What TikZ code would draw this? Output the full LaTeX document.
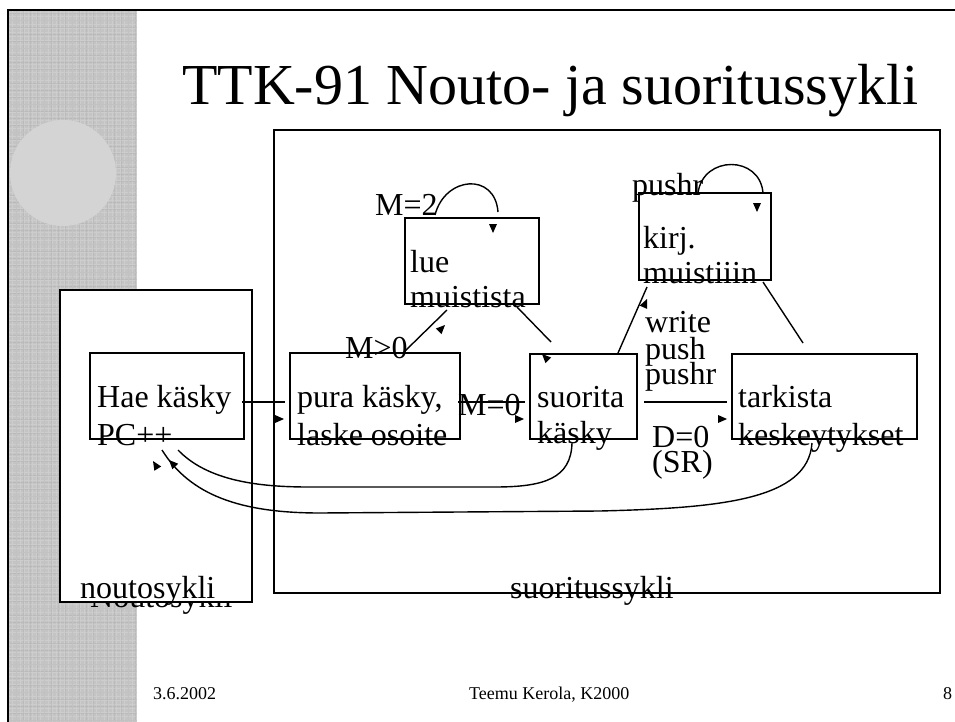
\documentclass[tikz,border=0pt]{standalone}
\usepackage{fontspec}
\setmainfont{Liberation Serif}
\usetikzlibrary{calc}
\newcommand{\mytip}[3]{\fill[shift={(#1,#2)}, rotate=#3] (0,0) -- (-9,4) -- (-9,-4) -- cycle;}
\begin{document}
\begin{tikzpicture}[x=1pt,y=-1pt,
  box/.style={draw, line width=1.6pt, fill=white, inner sep=0pt, outer sep=0pt},
  lbl/.style={inner sep=0pt, anchor=base west, font=\fontsize{32}{38}\selectfont},
  foot/.style={inner sep=0pt, anchor=base west, font=\fontsize{18}{20}\selectfont},
  con/.style={line width=1.4pt}]
\useasboundingbox (0,0) rectangle (955,722);
% background strip
\fill[black!23] (8,10) rectangle (137,722);
\draw[white, opacity=0.16, line width=0.7pt, step=4pt] (8,10) grid (137,722);
\draw[black, opacity=0.05, line width=0.5pt, xshift=2pt, yshift=1pt, step=7pt] (8,10) grid (135,721);
\fill[black!17] (63,173) circle [radius=53];
% frame
\draw[line width=1.8pt] (8,722) -- (8,10) -- (955,10);
% title
\node[inner sep=0pt, anchor=base west, font=\fontsize{58}{60}\selectfont] (title) at (182,105) {TTK-91 Nouto- ja suoritussykli};
% ghost label
\node[lbl] (ghost) at (90,607) {Noutosykli};
% outer boxes
\node[box, minimum width=192, minimum height=312] (nouto) at (156,446) {};
\node[box, minimum width=666, minimum height=463] (suor) at (607,361.5) {};
% inner boxes
\node[box, minimum width=154, minimum height=86] (hae) at (167,396) {};
\node[box, minimum width=170, minimum height=86] (pura) at (375,396) {};
\node[box, minimum width=107, minimum height=85] (suorita) at (583.5,396.5) {};
\node[box, minimum width=185, minimum height=85] (tark) at (824.5,396.5) {};
\node[box, minimum width=134, minimum height=86] (lue) at (472,261) {};
\node[box, minimum width=132, minimum height=87] (kirj) at (705,236.5) {};
% box texts
\node[lbl] (t1) at (97,407) {Hae käsky};
\node[lbl] (t2) at (97,445) {PC++};
\node[lbl] (t3) at (297,407) {pura käsky,};
\node[lbl] (t4) at (297,445) {laske osoite};
\node[lbl] (t5) at (537,407) {suorita};
\node[lbl] (t6) at (537,443) {käsky};
\node[lbl] (t7) at (738,407) {tarkista};
\node[lbl] (t8) at (738,445) {keskeytykset};
\node[lbl] (t9) at (410,272) {lue};
\node[lbl] (t10) at (410,307) {muistista};
\node[lbl] (t11) at (643,248) {kirj.};
\node[lbl] (t12) at (643,283) {muistiiin};
% edge labels
\node[lbl] (m2) at (375,215) {M=2};
\node[lbl] (pr1) at (632,196) {pushr};
\node[lbl] (mg0) at (345,358) {M>0};
\node[lbl] (m0) at (458,415) {M=0};
\node[lbl] (w1) at (645,332) {write};
\node[lbl] (w2) at (645,359) {push};
\node[lbl] (w3) at (645,384) {pushr};
\node[lbl] (d0) at (652,447) {D=0};
\node[lbl] (sr) at (652,472) {(SR)};
\node[lbl] (nl) at (80,598) {noutosykli};
\node[lbl] (sl) at (510,598) {suoritussykli};
% footer
\node[foot] (f1) at (153,699) {3.6.2002};
\node[foot] (f2) at (469,699) {Teemu Kerola, K2000};
\node[foot] (f3) at (943,699) {8};
% connectors
\draw[con] ($(hae.east)+(-2,6)$) -- ($(pura.west)+(-5,6)$);
\draw[con] ($(pura.east)+(-2,6)$) -- ($(suorita.west)+(-5,5.5)$);
\draw[con] ($(suorita.east)+(7,5.5)$) -- ($(tark.west)+(-5,5.5)$);
\draw[con] ($(pura.north)+(28,0)$) -- ($(lue.south)+(-25,6)$);
\draw[con] ($(lue.south)+(45,3)$) -- ($(suorita.north)+(-32.5,-12)$);
\draw[con] ($(suorita.north)+(34.5,-1)$) -- ($(kirj.south)+(-58,7)$);
\draw[con] ($(kirj.south)+(58,2)$) -- ($(tark.north)+(-21.5,-11)$);
% self loops
\draw[con] ($(lue.north)+(-37,-3)$) .. controls (445,176) and (495,172) .. ($(lue.north)+(26,-6)$);
\draw[con] ($(kirj.north)+(-7,0)$) .. controls (703,155) and (760,155) .. ($(kirj.north)+(58,0)$);
% return curves
\draw[con] ($(suorita.south)+(-11.5,4)$) .. controls (571,478) and (545,487) .. (495,487)
   -- (308,487) .. controls (250,487) and (205,478) .. ($(hae.south)+(11,11)$);
\draw[con] ($(tark.south)+(-12.5,4)$) .. controls (808,500) and (720,508) .. (600,511)
   -- (320,513) .. controls (240,513) and (190,495) .. ($(hae.south)+(-5,11)$);
% detached arrow tips
\mytip{284}{419}{0}
\mytip{524}{419}{0}
\mytip{727}{419}{0}
\mytip{493}{233}{-90}
\mytip{757}{212}{-90}
\mytip{445}{325}{45}
\mytip{542}{354}{135}
\mytip{647}{299}{66}
\mytip{169}{460}{134}
\mytip{153}{461}{122}
\end{tikzpicture}
\end{document}
